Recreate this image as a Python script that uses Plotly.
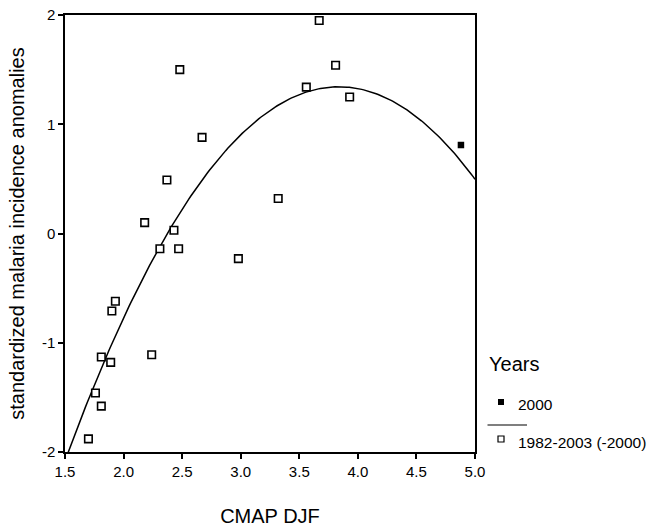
import numpy as np
import plotly.graph_objects as go

# Data
x_other = [3.67, 3.81, 3.56, 3.93, 2.48, 2.67, 2.37, 3.32, 2.18, 2.43, 2.31,
           2.47, 2.98, 1.93, 1.90, 1.81, 1.89, 2.24, 1.76, 1.81, 1.70]
y_other = [1.95, 1.54, 1.34, 1.25, 1.50, 0.88, 0.49, 0.32, 0.10, 0.03, -0.14,
           -0.14, -0.23, -0.62, -0.71, -1.13, -1.18, -1.11, -1.46, -1.58, -1.88]
x_2000 = [4.88]
y_2000 = [0.81]

x_ticks = [1.5, 2.0, 2.5, 3.0, 3.5, 4.0, 4.5, 5.0]
x_ticklabels = ["1.5", "2.0", "2.5", "3.0", "3.5", "4.0", "4.5", "5.0"]
y_ticks = [-2, -1, 0, 1, 2]
y_ticklabels = ["-2", "-1", "0", "1", "2"]

# Quadratic fit over 1982-2003 without 2000
coef = np.polyfit(np.array(x_other), np.array(y_other), 2)
xf = np.linspace(1.5, 5.0, 200)
yf = np.polyval(coef, xf)

FONT = "Liberation Sans, Arial, sans-serif"

fig = go.Figure()
fig.add_trace(go.Scatter(x=xf, y=yf, mode="lines",
                         line=dict(color="black", width=1.5),
                         hoverinfo="skip", showlegend=False))
fig.add_trace(go.Scatter(x=x_other, y=y_other, mode="markers",
                         marker=dict(symbol="square", size=7.5, color="white",
                                     line=dict(color="black", width=1.6)),
                         name="1982-2003 (-2000)", showlegend=False))
fig.add_trace(go.Scatter(x=x_2000, y=y_2000, mode="markers",
                         marker=dict(symbol="square", size=6.5, color="black",
                                     line=dict(width=0)),
                         name="2000", showlegend=False))

axis_common = dict(showline=True, linecolor="black", linewidth=1.5, mirror=True,
                   ticks="outside", ticklen=5, tickwidth=1.5, tickcolor="black",
                   showgrid=False, zeroline=False, automargin=False,
                   tickfont=dict(family=FONT, size=15, color="black"))

fig.update_xaxes(range=[1.5, 5.0], tickvals=x_ticks, ticktext=x_ticklabels,
                 title=dict(text="CMAP DJF", font=dict(family=FONT, size=20, color="black"),
                            standoff=38),
                 **axis_common)
fig.update_yaxes(range=[-2, 2], tickvals=y_ticks, ticktext=y_ticklabels,
                 title=dict(text="standardized malaria incidence anomalies",
                            font=dict(family=FONT, size=20, color="black"), standoff=12),
                 **axis_common)

W, H = 647, 527
L, R, T, B = 65, 172, 15, 75
pw, ph = W - L - R, H - T - B

def px2paper(px, py):
    return (px - L) / pw, 1 - (py - T) / ph

shapes = []
# filled square
cx, cy = px2paper(501, 402)
shapes.append(dict(type="rect", xref="paper", yref="paper",
                   x0=cx - 3 / pw, x1=cx + 3 / pw, y0=cy - 3 / ph, y1=cy + 3 / ph,
                   fillcolor="black", line=dict(width=0)))
# separator line
lx0, ly = px2paper(487.5, 425)
lx1, _ = px2paper(527, 425)
shapes.append(dict(type="line", xref="paper", yref="paper",
                   x0=lx0, x1=lx1, y0=ly, y1=ly, line=dict(color="black", width=1.2)))
# open square
cx2, cy2 = px2paper(501, 439)
shapes.append(dict(type="rect", xref="paper", yref="paper",
                   x0=cx2 - 3 / pw, x1=cx2 + 3 / pw, y0=cy2 - 3 / ph, y1=cy2 + 3 / ph,
                   fillcolor="white", line=dict(color="black", width=1.2)))

annotations = []
ax_, ay_ = px2paper(487, 364)
annotations.append(dict(text="Years", xref="paper", yref="paper", x=ax_, y=ay_,
                        xanchor="left", yanchor="middle", showarrow=False,
                        font=dict(family=FONT, size=20, color="black")))
ax_, ay_ = px2paper(516, 404)
annotations.append(dict(text="2000", xref="paper", yref="paper", x=ax_, y=ay_,
                        xanchor="left", yanchor="middle", showarrow=False,
                        font=dict(family=FONT, size=15.5, color="black")))
ax_, ay_ = px2paper(516, 442)
annotations.append(dict(text="1982-2003 (-2000)", xref="paper", yref="paper", x=ax_, y=ay_,
                        xanchor="left", yanchor="middle", showarrow=False,
                        font=dict(family=FONT, size=15.5, color="black")))

fig.update_layout(width=W, height=H, margin=dict(l=L, r=R, t=T, b=B),
                  plot_bgcolor="white", paper_bgcolor="white",
                  shapes=shapes, annotations=annotations, showlegend=False)

fig.write_html("out.html", config={"displayModeBar": False},
               post_script="document.body.style.margin='0';document.body.style.overflow='hidden';")
